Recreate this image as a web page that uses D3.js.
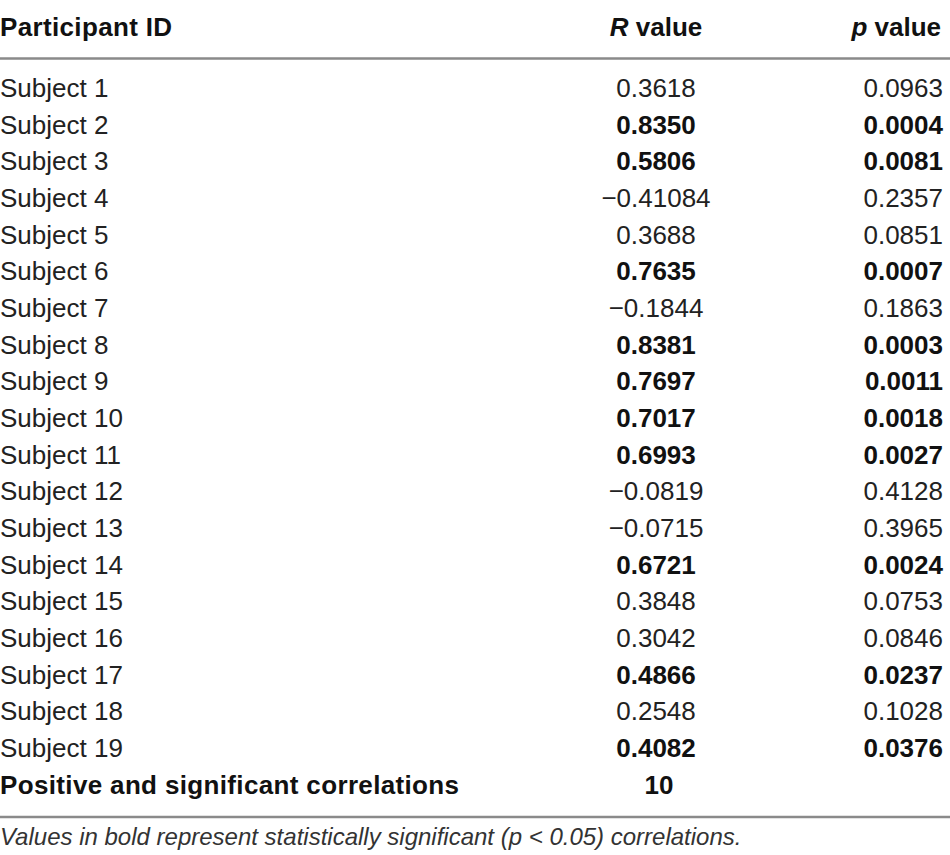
<!DOCTYPE html>
<html>
<head>
<meta charset="utf-8">
<script src="https://cdn.jsdelivr.net/npm/d3@7"></script>
<style>
  html, body { margin: 0; padding: 0; background: #fff; }
  svg { display: block; }
  text { font-family: "Liberation Sans", Arial, Helvetica, sans-serif; }
</style>
</head>
<body>
<svg id="chart" width="950" height="855"></svg>
<script>
const headers = ["Participant ID", "R value", "p value"];
const participants = ["Subject 1","Subject 2","Subject 3","Subject 4","Subject 5","Subject 6","Subject 7","Subject 8","Subject 9","Subject 10","Subject 11","Subject 12","Subject 13","Subject 14","Subject 15","Subject 16","Subject 17","Subject 18","Subject 19"];
const rValues = ["0.3618","0.8350","0.5806","\u22120.41084","0.3688","0.7635","\u22120.1844","0.8381","0.7697","0.7017","0.6993","\u22120.0819","\u22120.0715","0.6721","0.3848","0.3042","0.4866","0.2548","0.4082"];
const pValues = ["0.0963","0.0004","0.0081","0.2357","0.0851","0.0007","0.1863","0.0003","0.0011","0.0018","0.0027","0.4128","0.3965","0.0024","0.0753","0.0846","0.0237","0.1028","0.0376"];
const summaryLabel = "Positive and significant correlations";
const summaryValue = "10";
const footnote = "Values in bold represent statistically significant (p < 0.05) correlations.";
const alpha = 0.05;

const svg = d3.select("#chart");
const W = 950;

const rowKeys = participants.concat([summaryLabel]);
const y = d3.scalePoint().domain(rowKeys).range([88, 88 + 19 * 36.67]);
const colX = { id: 0, r: 656, p: 943 };

const textColor = "#222";
const boldColor = "#111";
const lineColor = "#8a8a8a";
const fs = 26;
const yOff = 9; // baseline offset from row center
const boldSpacing = 0.35;

// header
const hY = 27;
svg.append("text").attr("x", colX.id).attr("y", hY + yOff).attr("font-size", fs)
  .attr("font-weight", "bold").attr("letter-spacing", boldSpacing).attr("fill", boldColor).text(headers[0]);
const hr = svg.append("text").attr("x", colX.r).attr("y", hY + yOff).attr("font-size", fs)
  .attr("text-anchor", "middle").attr("fill", boldColor);
hr.append("tspan").attr("font-style", "italic").attr("font-weight", "bold").text(headers[1].split(" ")[0]);
hr.append("tspan").attr("font-weight", "bold").text(" " + headers[1].split(" ")[1]);
const hp = svg.append("text").attr("x", colX.p - 2).attr("y", hY + yOff).attr("font-size", fs)
  .attr("text-anchor", "end").attr("fill", boldColor);
hp.append("tspan").attr("font-style", "italic").attr("font-weight", "bold").text(headers[2].split(" ")[0]);
hp.append("tspan").attr("font-weight", "bold").text(" " + headers[2].split(" ")[1]);

// lines
svg.append("line").attr("x1", 0).attr("x2", W).attr("y1", 58.5).attr("y2", 58.5)
  .attr("stroke", lineColor).attr("stroke-width", 2.5);
svg.append("line").attr("x1", 0).attr("x2", W).attr("y1", 817).attr("y2", 817)
  .attr("stroke", lineColor).attr("stroke-width", 2.5);

// rows
const rows = participants.map((p, i) => ({ id: p, r: rValues[i], p: pValues[i], sig: parseFloat(pValues[i]) < alpha }));
const g = svg.append("g");
const rowG = g.selectAll("g.row").data(rows).join("g").attr("class", "row")
  .attr("transform", d => `translate(0,${y(d.id) + yOff})`);
rowG.append("text").attr("x", colX.id).attr("font-size", fs).attr("fill", textColor).text(d => d.id);
rowG.append("text").attr("x", colX.r).attr("text-anchor", "middle").attr("font-size", fs)
  .attr("font-weight", d => d.sig ? "bold" : "normal").attr("fill", d => d.sig ? boldColor : textColor).text(d => d.r);
rowG.append("text").attr("x", colX.p).attr("text-anchor", "end").attr("font-size", fs)
  .attr("font-weight", d => d.sig ? "bold" : "normal").attr("fill", d => d.sig ? boldColor : textColor).text(d => d.p);

// summary row
svg.append("text").attr("x", colX.id).attr("y", y(summaryLabel) + yOff).attr("font-size", fs)
  .attr("font-weight", "bold").attr("letter-spacing", boldSpacing).attr("fill", boldColor).text(summaryLabel);
svg.append("text").attr("x", 659).attr("y", y(summaryLabel) + yOff).attr("font-size", fs)
  .attr("text-anchor", "middle").attr("font-weight", "bold").attr("fill", boldColor).text(summaryValue);

// footnote
svg.append("text").attr("x", 0).attr("y", 845).attr("font-size", 24).attr("font-style", "italic")
  .attr("fill", "#333").text(footnote);
</script>
</body>
</html>
